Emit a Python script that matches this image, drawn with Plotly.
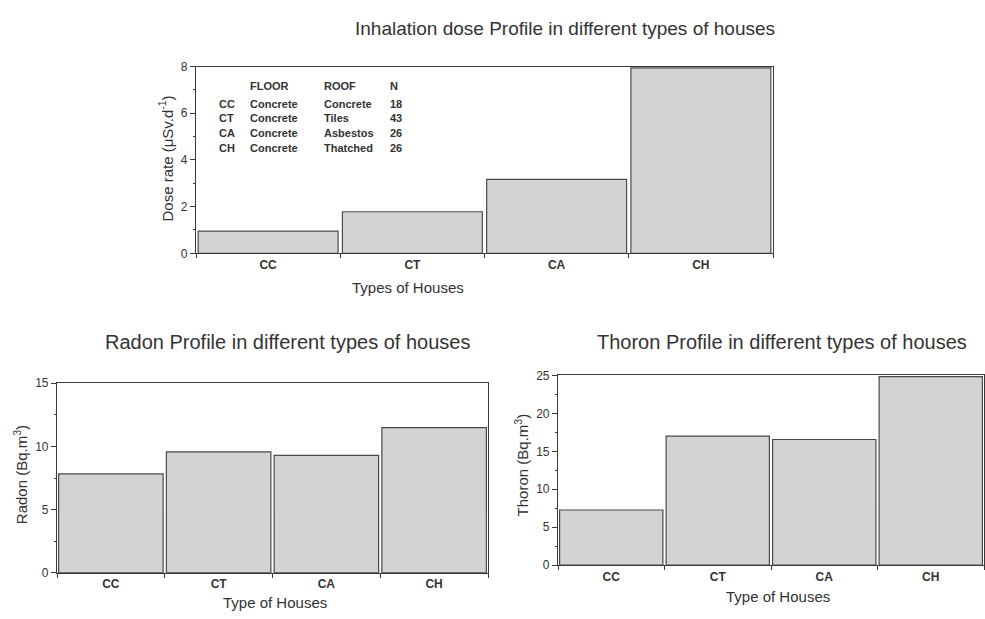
import plotly.graph_objects as go

W, H = 985, 619

categories = ["CC", "CT", "CA", "CH"]
dose_rate = [0.95, 1.78, 3.17, 7.95]
radon = [7.83, 9.58, 9.30, 11.5]
thoron = [7.26, 17.0, 16.56, 24.86]

table_header = ["FLOOR", "ROOF", "N"]
floor_types = ["Concrete", "Concrete", "Concrete", "Concrete"]
roof_types = ["Concrete", "Tiles", "Asbestos", "Thatched"]
house_counts = ["18", "43", "26", "26"]

FONT = "Liberation Sans, Arial, sans-serif"
TXT = "#333333"
BAR_FILL = "#d3d3d3"
BAR_LINE = "#4a4a4a"
AX = "#3a3a3a"


def px(x):
    return x / W


def py(y):
    return 1 - y / H


fig = go.Figure()
bar_style = dict(marker=dict(color=BAR_FILL, line=dict(color=BAR_LINE, width=1.2)),
                 showlegend=False, hoverinfo="x+y")
fig.add_trace(go.Bar(x=categories, y=dose_rate, xaxis="x", yaxis="y", **bar_style))
fig.add_trace(go.Bar(x=categories, y=radon, xaxis="x2", yaxis="y2", **bar_style))
fig.add_trace(go.Bar(x=categories, y=thoron, xaxis="x3", yaxis="y3", **bar_style))


def xax(domain, anchor):
    return dict(domain=domain, anchor=anchor, type="category", showline=True,
                linecolor=AX, linewidth=1.2, mirror=True, ticks="outside",
                tickson="boundaries", ticklen=4, tickcolor=AX, showgrid=False,
                zeroline=False, tickfont=dict(family=FONT, size=12, color=TXT,
                                              weight="bold"),
                range=[-0.5, 3.5])


def yax(domain, anchor, rng, dtick):
    return dict(domain=domain, anchor=anchor, range=rng, dtick=dtick,
                showline=True, linecolor=AX, linewidth=1.2, mirror=True,
                ticks="outside", ticklen=5, tickcolor=AX, showgrid=False,
                zeroline=False, tickfont=dict(family=FONT, size=12, color=TXT),
                minor=dict(dtick=dtick / 2, ticks="outside", ticklen=2,
                           tickcolor=AX))


fig.update_layout(
    width=W, height=H, margin=dict(l=0, r=0, t=0, b=0),
    paper_bgcolor="white", plot_bgcolor="white", bargap=0.03,
    xaxis=xax([px(196), px(773)], "y"),
    yaxis=yax([py(252), py(61)], "x", [0, 8], 2),
    xaxis2=xax([px(57), px(488)], "y2"),
    yaxis2=yax([py(579), py(385)], "x2", [0, 15], 5),
    xaxis3=xax([px(558), px(984)], "y3"),
    yaxis3=yax([py(571), py(377)], "x3", [0, 25], 5),
)

ann = []


def text(x, y, s, size, bold=False, angle=0, xanchor="center"):
    ann.append(dict(x=px(x), y=py(y), xref="paper", yref="paper", text=s,
                    showarrow=False, textangle=angle, xanchor=xanchor,
                    yanchor="middle",
                    font=dict(family=FONT, size=size, color=TXT,
                              weight="bold" if bold else "normal")))


# chart titles
text(565, 22, "Inhalation dose Profile in different types of houses", 19)
text(287, 343, "Radon Profile in different types of houses", 20)
text(782, 343, "Thoron Profile in different types of houses", 20)

# axis titles
text(408, 287, "Types of Houses", 15)
text(275, 609, "Type of Houses", 15)
text(778, 603, "Type of Houses", 15)
text(166, 155, "Dose rate (μSv.d<sup>-1</sup>)", 15, angle=-90)
text(20, 479, "Radon (Bq.m<sup>3</sup>)", 15, angle=-90)
text(521, 469, "Thoron (Bq.m<sup>3</sup>)", 15, angle=-90)

# legend table
col_x = [217, 248, 322, 388]
text(col_x[1], 81, table_header[0], 11, bold=True, xanchor="left")
text(col_x[2], 81, table_header[1], 11, bold=True, xanchor="left")
text(col_x[3], 81, table_header[2], 11, bold=True, xanchor="left")
row_y = [99, 114, 129, 144]
for i, c in enumerate(categories):
    text(col_x[0], row_y[i], c, 11, bold=True, xanchor="left")
    text(col_x[1], row_y[i], floor_types[i], 11, bold=True, xanchor="left")
    text(col_x[2], row_y[i], roof_types[i], 11, bold=True, xanchor="left")
    text(col_x[3], row_y[i], house_counts[i], 11, bold=True, xanchor="left")

fig.update_layout(annotations=ann)
fig.write_html("out.html")
